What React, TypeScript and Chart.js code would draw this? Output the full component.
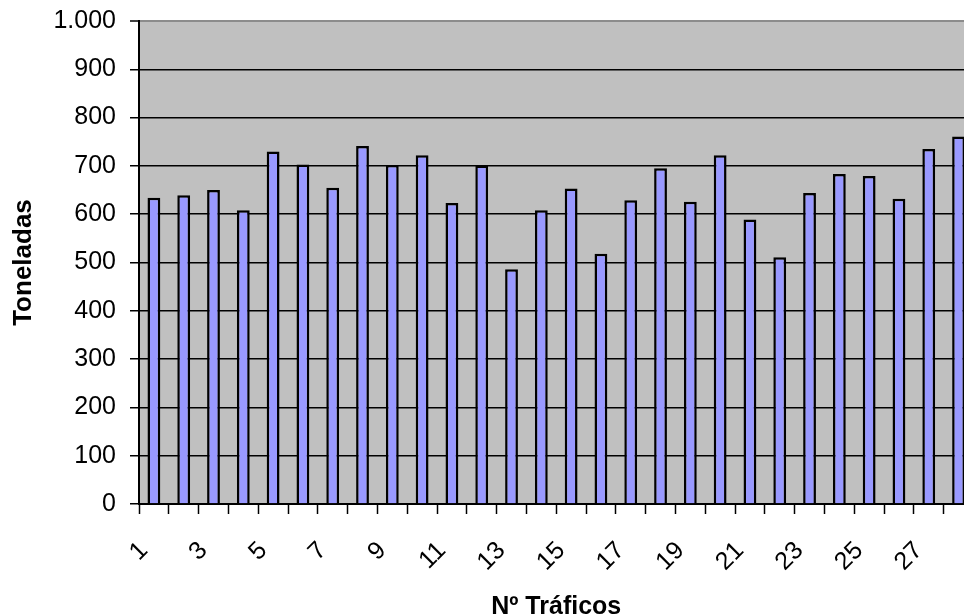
import React, { useEffect, useRef } from 'react';
import { Chart, registerables } from 'chart.js';

Chart.register(...registerables);

const categories: string[] = [
  '1', '2', '3', '4', '5', '6', '7', '8', '9', '10', '11', '12', '13', '14',
  '15', '16', '17', '18', '19', '20', '21', '22', '23', '24', '25', '26', '27', '28',
];

const toneladas: number[] = [
  634, 639, 650, 608, 730, 703, 655, 741, 702, 722, 623, 701, 486, 608,
  653, 518, 629, 695, 626, 722, 589, 511, 644, 683, 679, 632, 735, 761,
];

const yMin = 0;
const yMax = 1000;
const yStep = 100;

const formatThousands = (v: number): string =>
  String(v).replace(/\B(?=(\d{3})+(?!\d))/g, '.');

const plotBackground = {
  id: 'plotBackground',
  beforeDraw(chart: any) {
    const { ctx, chartArea } = chart;
    if (!chartArea) return;
    ctx.save();
    ctx.fillStyle = '#C0C0C0';
    ctx.fillRect(
      chartArea.left,
      chartArea.top,
      chartArea.right - chartArea.left,
      chartArea.bottom - chartArea.top
    );
    ctx.restore();
  },
};

export default function App() {
  const canvasRef = useRef<HTMLCanvasElement | null>(null);

  useEffect(() => {
    if (!canvasRef.current) return;
    const font = 'Liberation Sans';
    const chart = new Chart(canvasRef.current, {
      type: 'bar',
      data: {
        labels: categories,
        datasets: [
          {
            label: 'Toneladas',
            data: toneladas,
            backgroundColor: '#9999FF',
            borderColor: '#000000',
            borderWidth: 2.5,
            barPercentage: 0.43,
            categoryPercentage: 1.0,
          },
        ],
      },
      options: {
        responsive: false,
        animation: false,
        layout: { padding: { left: 4, right: 13, top: 21, bottom: 0 } },
        plugins: {
          legend: { display: false },
          tooltip: { enabled: false },
        },
        scales: {
          x: {
            offset: true,
            ticks: {
              autoSkip: false,
              minRotation: 45,
              maxRotation: 45,
              labelOffset: -10,
              padding: 22,
              color: '#000',
              font: { family: font, size: 25 },
              callback: (_v: any, i: number) => (i % 2 === 0 ? categories[i] : ''),
            },
            grid: {
              offset: true,
              drawOnChartArea: false,
              drawTicks: true,
              tickLength: 10,
              tickColor: '#000',
              tickWidth: 1.5,
              color: '#000',
            },
            border: { color: '#000', width: 2 },
            title: {
              display: true,
              text: 'Nº Tráficos',
              color: '#000',
              font: { family: font, size: 25, weight: 'bold', lineHeight: 1 },
              padding: { top: 0, bottom: -6 },
            },
            afterFit: (s: any) => {
              s.height = 110;
            },
          },
          y: {
            min: yMin,
            max: yMax,
            ticks: {
              stepSize: yStep,
              color: '#000',
              padding: 14,
              font: { family: font, size: 25 },
              callback: (v: any) => formatThousands(Number(v)),
            },
            grid: {
              color: (c: any) => (c.tick && c.tick.value === yMax ? '#8c8c8c' : '#000'),
              lineWidth: (c: any) => (c.tick && c.tick.value === yMax ? 2 : 1.5),
              tickColor: '#000',
              tickWidth: 1.5,
              tickLength: 9,
            },
            border: { color: '#000', width: 2 },
            title: {
              display: true,
              text: 'Toneladas',
              color: '#000',
              font: { family: font, size: 26, weight: 'bold' },
              padding: { top: 4, bottom: 4 },
            },
            afterFit: (s: any) => {
              s.width = 135;
              s.paddingTop = 0;
              s.paddingBottom = 0;
            },
          },
        },
      },
      plugins: [plotBackground],
    });
    return () => {
      chart.destroy();
    };
  }, []);

  return (
    <div
      style={{
        position: 'fixed',
        left: 0,
        top: 0,
        width: 964,
        height: 614,
        overflow: 'hidden',
        background: '#fff',
      }}
    >
      <canvas ref={canvasRef} width={1002} height={614} style={{ width: 1002, height: 614, display: 'block' }} />
    </div>
  );
}
